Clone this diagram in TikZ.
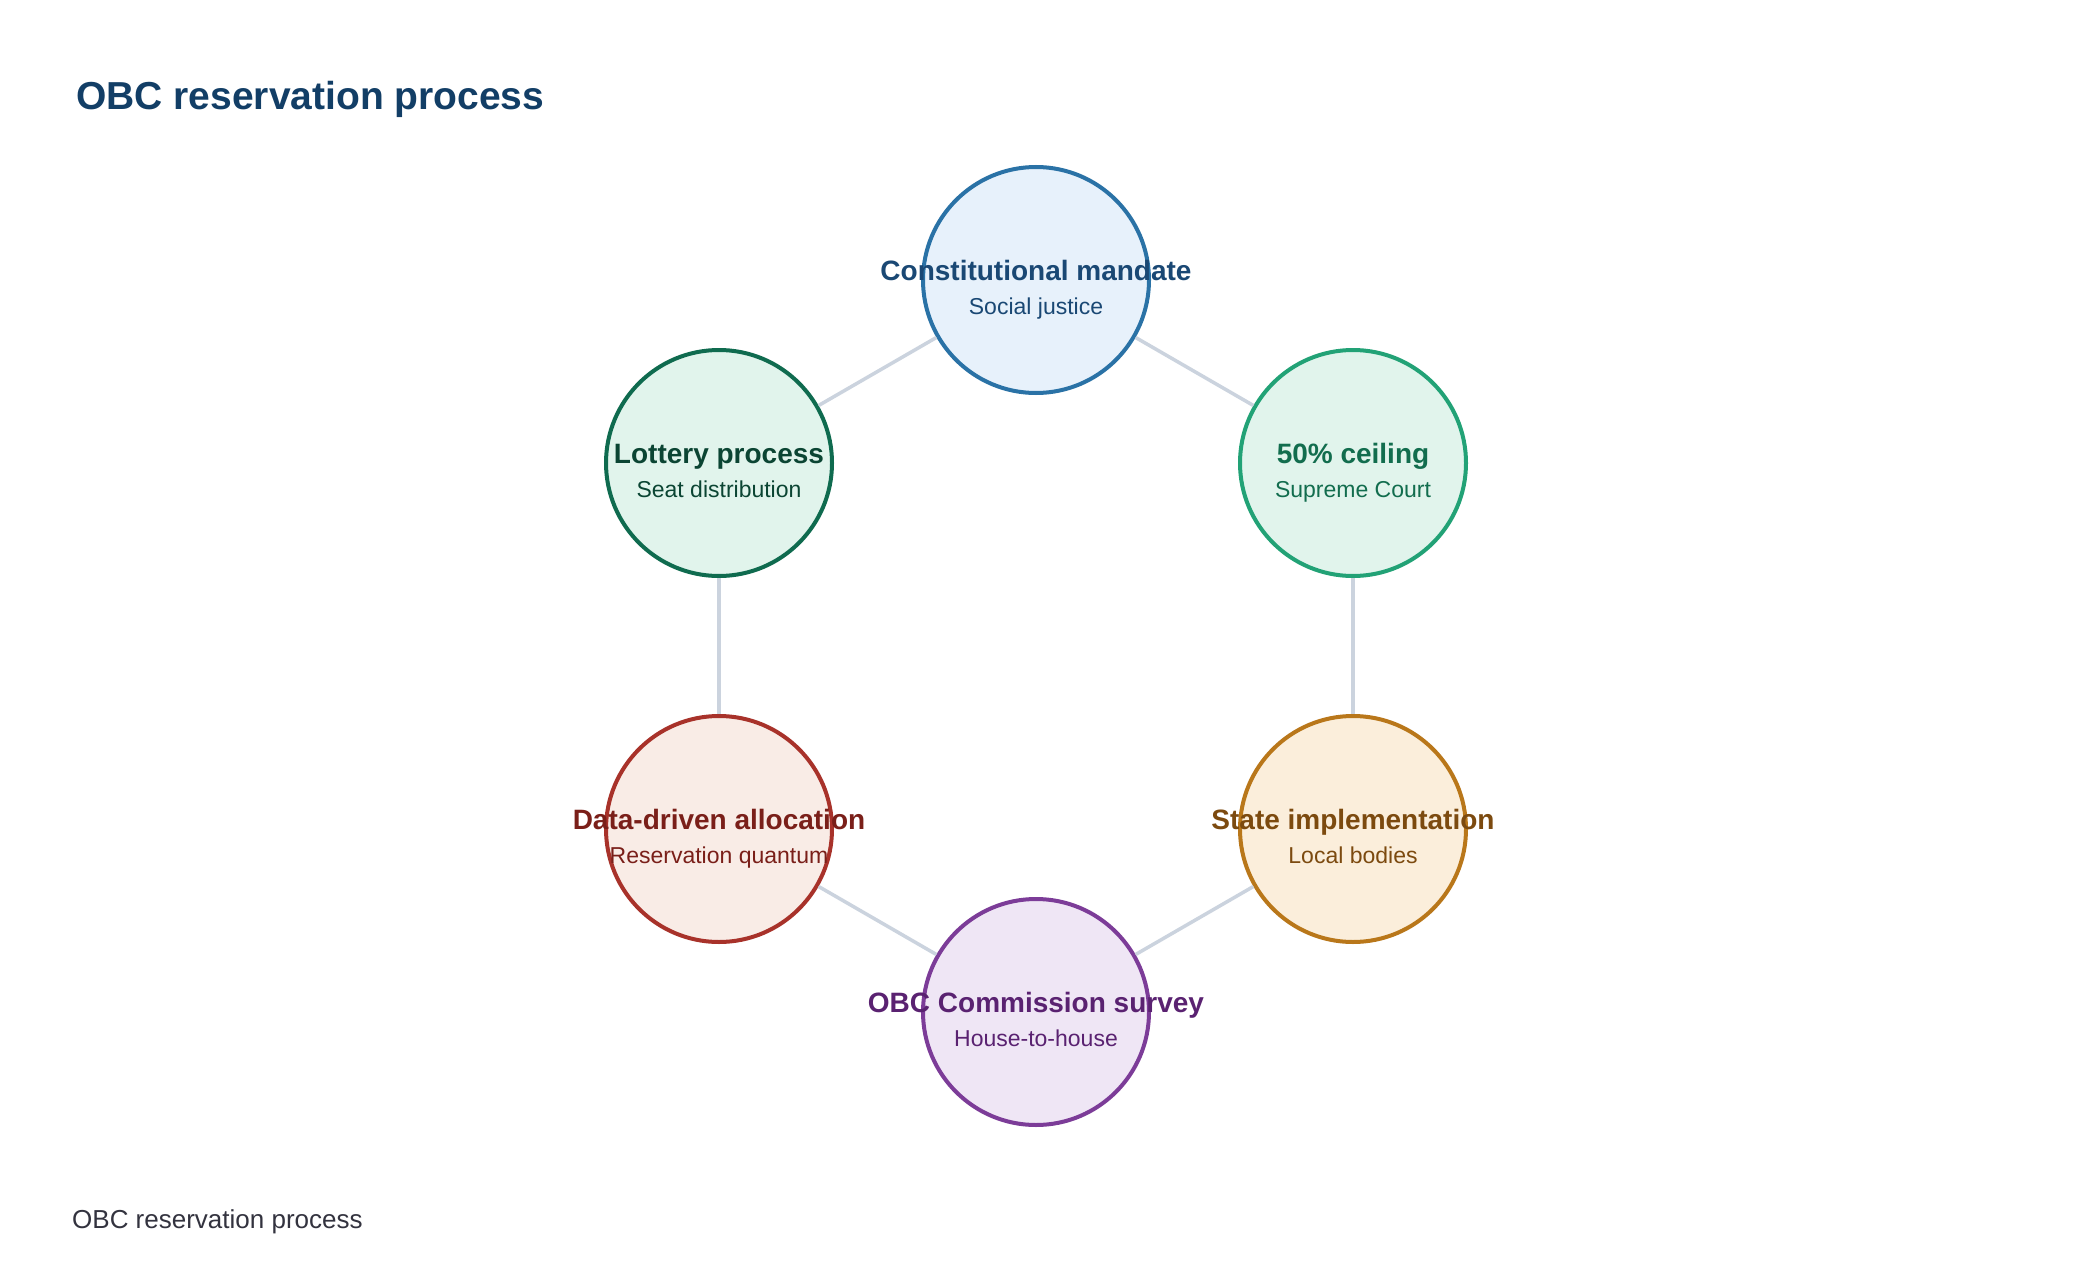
\documentclass[tikz,border=0pt]{standalone}
\usepackage{fontspec}
\setmainfont{Liberation Sans}
\definecolor{conn}{HTML}{CBD3DE}
\definecolor{titlec}{HTML}{123E66}
\definecolor{footc}{HTML}{33333F}
\definecolor{aS}{HTML}{2A72A6}\definecolor{aF}{HTML}{E7F1FB}\definecolor{aT}{HTML}{1A4874}
\definecolor{bS}{HTML}{0F6B4F}\definecolor{bF}{HTML}{E1F4EC}\definecolor{bT}{HTML}{0B4533}
\definecolor{cS}{HTML}{22A276}\definecolor{cF}{HTML}{E1F4EC}\definecolor{cT}{HTML}{126D4E}
\definecolor{dS}{HTML}{A8322A}\definecolor{dF}{HTML}{F9ECE6}\definecolor{dT}{HTML}{7A1F19}
\definecolor{eS}{HTML}{B9771A}\definecolor{eF}{HTML}{FBEEDB}\definecolor{eT}{HTML}{7C4A0F}
\definecolor{fS}{HTML}{7C3C98}\definecolor{fF}{HTML}{EFE6F5}\definecolor{fT}{HTML}{5A2271}
\tikzset{
  stepcircle/.style={circle, minimum size=226pt, inner sep=0pt, line width=4pt},
  headtext/.style={anchor=base, font=\fontsize{28pt}{32pt}\selectfont\bfseries, inner sep=0pt},
  subtext/.style={anchor=base, font=\fontsize{23pt}{27pt}\selectfont, inner sep=0pt},
  connector/.style={draw=conn, line width=3.5pt}
}
\begin{document}
\begin{tikzpicture}[x=1pt,y=-1pt]
\useasboundingbox[fill=white] (0,0) rectangle (2080,1284);
% circles
\node[stepcircle, draw=aS, fill=aF] (top) at (1036,280) {};
\node[stepcircle, draw=bS, fill=bF] (lottery) at (719,463) {};
\node[stepcircle, draw=cS, fill=cF] (ceiling) at (1353,463) {};
\node[stepcircle, draw=dS, fill=dF] (data) at (719,829) {};
\node[stepcircle, draw=eS, fill=eF] (state) at (1353,829) {};
\node[stepcircle, draw=fS, fill=fF] (survey) at (1036,1012) {};
% connectors
\draw[connector] (top) -- (lottery);
\draw[connector] (top) -- (ceiling);
\draw[connector] (lottery) -- (data);
\draw[connector] (ceiling) -- (state);
\draw[connector] (data) -- (survey);
\draw[connector] (state) -- (survey);
% texts
\node[headtext, text=aT] (topH) at (1036,280) {Constitutional mandate};
\node[subtext, text=aT] (topS) at (1036,314) {Social justice};
\node[headtext, text=bT] (lotH) at (719,463) {Lottery process};
\node[subtext, text=bT] (lotS) at (719,497) {Seat distribution};
\node[headtext, text=cT] (ceilH) at (1353,463) {50\% ceiling};
\node[subtext, text=cT] (ceilS) at (1353,497) {Supreme Court};
\node[headtext, text=dT] (dataH) at (719,829) {Data-driven allocation};
\node[subtext, text=dT] (dataS) at (719,863) {Reservation quantum};
\node[headtext, text=eT] (stateH) at (1353,829) {State implementation};
\node[subtext, text=eT] (stateS) at (1353,863) {Local bodies};
\node[headtext, text=fT] (survH) at (1036,1012) {OBC Commission survey};
\node[subtext, text=fT] (survS) at (1036,1046) {House-to-house};
% title and footer
\node[anchor=base west, inner sep=0pt, text=titlec, font=\fontsize{39pt}{44pt}\selectfont\bfseries] (title) at (76,110) {OBC reservation process};
\node[anchor=base west, inner sep=0pt, text=footc, font=\fontsize{26pt}{30pt}\selectfont] (footer) at (72,1228) {OBC reservation process};
\end{tikzpicture}
\end{document}
